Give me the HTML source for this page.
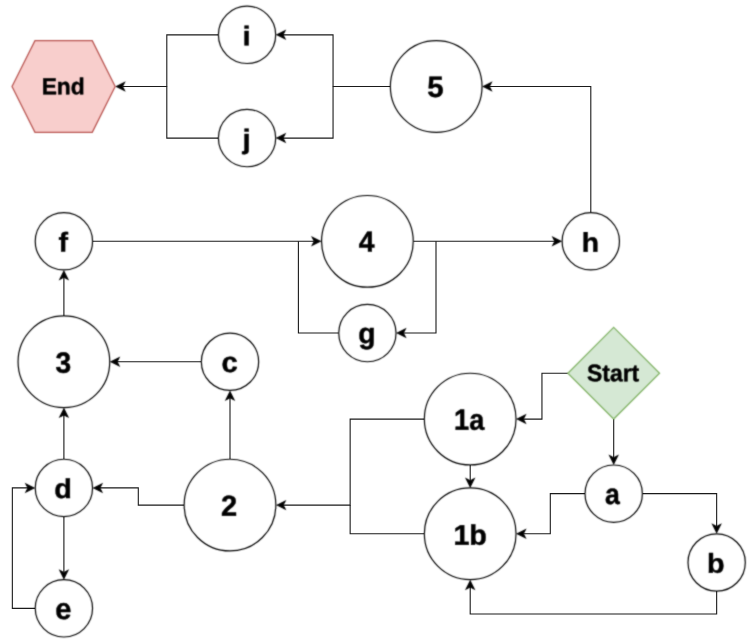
<!DOCTYPE html>
<html lang="en">
<head>
<meta charset="utf-8">
<title>Flow diagram</title>
<style>
html,body{margin:0;padding:0;background:#fff;}
body{width:749px;height:642px;overflow:hidden;}
svg{display:block;will-change:transform;}
text{text-rendering:geometricPrecision;font-family:"Liberation Sans",Arial,Helvetica,sans-serif;font-weight:bold;text-anchor:middle;fill:#000;stroke:#000;stroke-width:0.45px;stroke-linejoin:round;}
</style>
</head>
<body>
<svg width="749" height="642" viewBox="0 0 749 642">
<defs><filter id="soft" x="0" y="0" width="749" height="642" filterUnits="userSpaceOnUse" color-interpolation-filters="sRGB"><feConvolveMatrix order="3" kernelMatrix="0.04 0.1 0.04 0.1 0.44 0.1 0.04 0.1 0.04" edgeMode="duplicate" preserveAlpha="false"/></filter></defs>
<rect x="0" y="0" width="749" height="642" fill="#fff"/>
<path d="M 567.86 373.22 L 541.95 373.22 L 541.95 419.1 L 523.34 419.1" fill="none" stroke="#1a1a1a" stroke-width="1.1" stroke-miterlimit="10"/>
<path d="M 613.7 419.06 L 613.7 457.7" fill="none" stroke="#1a1a1a" stroke-width="1.1" stroke-miterlimit="10"/>
<path d="M 585.05 493.65 L 550.3 493.65 L 550.3 533.79 L 523.34 533.79" fill="none" stroke="#1a1a1a" stroke-width="1.1" stroke-miterlimit="10"/>
<path d="M 642.35 493.65 L 716.65 493.65 L 716.65 526.52" fill="none" stroke="#1a1a1a" stroke-width="1.1" stroke-miterlimit="10"/>
<path d="M 716.65 591.12 L 716.65 614 L 470.2 614 L 470.2 586.94" fill="none" stroke="#1a1a1a" stroke-width="1.1" stroke-miterlimit="10"/>
<path d="M 470.2 464.94 L 470.2 480.65" fill="none" stroke="#1a1a1a" stroke-width="1.1" stroke-miterlimit="10"/>
<path d="M 424.36 419.1 L 350.15 419.1 L 350.15 505.12 L 283.14 505.12" fill="none" stroke="#1a1a1a" stroke-width="1.1" stroke-miterlimit="10"/>
<path d="M 424.36 533.79 L 350.15 533.79 L 350.15 505.12" fill="none" stroke="#1a1a1a" stroke-width="1.1" stroke-miterlimit="10"/>
<path d="M 230 459.28 L 230 397.7" fill="none" stroke="#1a1a1a" stroke-width="1.1" stroke-miterlimit="10"/>
<path d="M 184.16 505.12 L 138.3 505.12 L 138.3 487.92 L 99.85 487.92" fill="none" stroke="#1a1a1a" stroke-width="1.1" stroke-miterlimit="10"/>
<path d="M 201.35 361.75 L 117.04 361.75" fill="none" stroke="#1a1a1a" stroke-width="1.1" stroke-miterlimit="10"/>
<path d="M 63.9 459.27 L 63.9 414.89" fill="none" stroke="#1a1a1a" stroke-width="1.1" stroke-miterlimit="10"/>
<path d="M 63.9 516.57 L 63.9 572.4" fill="none" stroke="#1a1a1a" stroke-width="1.1" stroke-miterlimit="10"/>
<path d="M 35.25 608.35 L 12.35 608.35 L 12.35 487.92 L 27.95 487.92" fill="none" stroke="#1a1a1a" stroke-width="1.1" stroke-miterlimit="10"/>
<path d="M 63.9 315.91 L 63.9 277.26" fill="none" stroke="#1a1a1a" stroke-width="1.1" stroke-miterlimit="10"/>
<path d="M 92.55 241.31 L 314.26 241.31" fill="none" stroke="#1a1a1a" stroke-width="1.1" stroke-miterlimit="10"/>
<path d="M 413.24 241.31 L 554.85 241.31" fill="none" stroke="#1a1a1a" stroke-width="1.1" stroke-miterlimit="10"/>
<path d="M 436 241.31 L 436 333.07 L 403.35 333.07" fill="none" stroke="#1a1a1a" stroke-width="1.1" stroke-miterlimit="10"/>
<path d="M 338.75 333.07 L 298.4 333.07 L 298.4 241.31" fill="none" stroke="#1a1a1a" stroke-width="1.1" stroke-miterlimit="10"/>
<path d="M 590.8 212.66 L 590.8 86.47 L 489.34 86.47" fill="none" stroke="#1a1a1a" stroke-width="1.1" stroke-miterlimit="10"/>
<path d="M 390.36 86.47 L 333.05 86.47 L 333.05 34.85 L 283 34.85" fill="none" stroke="#1a1a1a" stroke-width="1.1" stroke-miterlimit="10"/>
<path d="M 333.05 86.47 L 333.05 138.08 L 283 138.08" fill="none" stroke="#1a1a1a" stroke-width="1.1" stroke-miterlimit="10"/>
<path d="M 218.4 34.85 L 166.8 34.85 L 166.8 86.47 L 122.47 86.47" fill="none" stroke="#1a1a1a" stroke-width="1.1" stroke-miterlimit="10"/>
<path d="M 218.4 138.08 L 166.8 138.08 L 166.8 86.47" fill="none" stroke="#1a1a1a" stroke-width="1.1" stroke-miterlimit="10"/>
<g filter="url(#soft)">
<path d="M 517.32 419.1 L 525.35 415.08 L 523.34 419.1 L 525.35 423.11 Z" fill="#000" stroke="#000" stroke-width="1.1" stroke-miterlimit="10"/>
<path d="M 613.7 463.72 L 609.69 455.69 L 613.7 457.7 L 617.71 455.69 Z" fill="#000" stroke="#000" stroke-width="1.1" stroke-miterlimit="10"/>
<path d="M 517.32 533.79 L 525.35 529.78 L 523.34 533.79 L 525.35 537.81 Z" fill="#000" stroke="#000" stroke-width="1.1" stroke-miterlimit="10"/>
<path d="M 716.65 532.54 L 712.64 524.51 L 716.65 526.52 L 720.66 524.51 Z" fill="#000" stroke="#000" stroke-width="1.1" stroke-miterlimit="10"/>
<path d="M 470.2 580.92 L 474.21 588.94 L 470.2 586.94 L 466.19 588.94 Z" fill="#000" stroke="#000" stroke-width="1.1" stroke-miterlimit="10"/>
<path d="M 470.2 486.67 L 466.19 478.65 L 470.2 480.65 L 474.21 478.65 Z" fill="#000" stroke="#000" stroke-width="1.1" stroke-miterlimit="10"/>
<path d="M 277.12 505.12 L 285.15 501.11 L 283.14 505.12 L 285.15 509.13 Z" fill="#000" stroke="#000" stroke-width="1.1" stroke-miterlimit="10"/>
<path d="M 230 391.68 L 234.01 399.7 L 230 397.7 L 225.99 399.7 Z" fill="#000" stroke="#000" stroke-width="1.1" stroke-miterlimit="10"/>
<path d="M 93.83 487.92 L 101.86 483.9 L 99.85 487.92 L 101.86 491.93 Z" fill="#000" stroke="#000" stroke-width="1.1" stroke-miterlimit="10"/>
<path d="M 111.02 361.75 L 119.05 357.73 L 117.04 361.75 L 119.05 365.76 Z" fill="#000" stroke="#000" stroke-width="1.1" stroke-miterlimit="10"/>
<path d="M 63.9 408.87 L 67.91 416.89 L 63.9 414.89 L 59.89 416.89 Z" fill="#000" stroke="#000" stroke-width="1.1" stroke-miterlimit="10"/>
<path d="M 63.9 578.42 L 59.89 570.39 L 63.9 572.4 L 67.91 570.39 Z" fill="#000" stroke="#000" stroke-width="1.1" stroke-miterlimit="10"/>
<path d="M 33.97 487.92 L 25.94 491.93 L 27.95 487.92 L 25.94 483.9 Z" fill="#000" stroke="#000" stroke-width="1.1" stroke-miterlimit="10"/>
<path d="M 63.9 271.24 L 67.91 279.27 L 63.9 277.26 L 59.89 279.27 Z" fill="#000" stroke="#000" stroke-width="1.1" stroke-miterlimit="10"/>
<path d="M 320.28 241.31 L 312.25 245.32 L 314.26 241.31 L 312.25 237.3 Z" fill="#000" stroke="#000" stroke-width="1.1" stroke-miterlimit="10"/>
<path d="M 560.87 241.31 L 552.84 245.32 L 554.85 241.31 L 552.84 237.3 Z" fill="#000" stroke="#000" stroke-width="1.1" stroke-miterlimit="10"/>
<path d="M 397.33 333.07 L 405.36 329.06 L 403.35 333.07 L 405.36 337.08 Z" fill="#000" stroke="#000" stroke-width="1.1" stroke-miterlimit="10"/>
<path d="M 483.32 86.47 L 491.35 82.45 L 489.34 86.47 L 491.35 90.48 Z" fill="#000" stroke="#000" stroke-width="1.1" stroke-miterlimit="10"/>
<path d="M 276.98 34.85 L 285.01 30.84 L 283 34.85 L 285.01 38.86 Z" fill="#000" stroke="#000" stroke-width="1.1" stroke-miterlimit="10"/>
<path d="M 276.98 138.08 L 285.01 134.07 L 283 138.08 L 285.01 142.09 Z" fill="#000" stroke="#000" stroke-width="1.1" stroke-miterlimit="10"/>
<path d="M 116.45 86.47 L 124.48 82.45 L 122.47 86.47 L 124.48 90.48 Z" fill="#000" stroke="#000" stroke-width="1.1" stroke-miterlimit="10"/>
<ellipse cx="247.05" cy="34.85" rx="28.65" ry="28.65" fill="#fff" stroke="#000" stroke-width="1.18"/>
<ellipse cx="247.05" cy="138.08" rx="28.65" ry="28.65" fill="#fff" stroke="#000" stroke-width="1.18"/>
<ellipse cx="436.2" cy="86.47" rx="45.84" ry="45.84" fill="#fff" stroke="#000" stroke-width="1.18"/>
<ellipse cx="63.9" cy="241.31" rx="28.65" ry="28.65" fill="#fff" stroke="#000" stroke-width="1.18"/>
<ellipse cx="367.4" cy="241.31" rx="45.84" ry="45.84" fill="#fff" stroke="#000" stroke-width="1.18"/>
<ellipse cx="590.8" cy="241.31" rx="28.65" ry="28.65" fill="#fff" stroke="#000" stroke-width="1.18"/>
<ellipse cx="367.4" cy="333.07" rx="28.65" ry="28.65" fill="#fff" stroke="#000" stroke-width="1.18"/>
<ellipse cx="63.9" cy="361.75" rx="45.84" ry="45.84" fill="#fff" stroke="#000" stroke-width="1.18"/>
<ellipse cx="230" cy="361.75" rx="28.65" ry="28.65" fill="#fff" stroke="#000" stroke-width="1.18"/>
<ellipse cx="470.2" cy="419.1" rx="45.84" ry="45.84" fill="#fff" stroke="#000" stroke-width="1.18"/>
<ellipse cx="470.2" cy="533.79" rx="45.84" ry="45.84" fill="#fff" stroke="#000" stroke-width="1.18"/>
<ellipse cx="63.9" cy="487.92" rx="28.65" ry="28.65" fill="#fff" stroke="#000" stroke-width="1.18"/>
<ellipse cx="613.7" cy="493.65" rx="28.65" ry="28.65" fill="#fff" stroke="#000" stroke-width="1.18"/>
<ellipse cx="230" cy="505.12" rx="45.84" ry="45.84" fill="#fff" stroke="#000" stroke-width="1.18"/>
<ellipse cx="716.65" cy="562.47" rx="28.65" ry="28.65" fill="#fff" stroke="#000" stroke-width="1.18"/>
<ellipse cx="63.9" cy="608.35" rx="28.65" ry="28.65" fill="#fff" stroke="#000" stroke-width="1.18"/>
<path d="M 34.95 40.63 L 92.25 40.63 L 115.17 86.47 L 92.25 132.31 L 34.95 132.31 L 12.03 86.47 Z" fill="#f8cecc" stroke="#b85450" stroke-width="1.25" stroke-miterlimit="10"/>
<path d="M 613.7 327.38 L 659.54 373.22 L 613.7 419.06 L 567.86 373.22 Z" fill="#d5e8d4" stroke="#82b366" stroke-width="1.25" stroke-miterlimit="10"/>
<text transform="translate(246.69 45.18) rotate(0.03) scale(1.03 0.941)" font-size="28.65">i</text>
<text transform="translate(246.62 148.54) rotate(0.03) scale(1.03 0.956)" font-size="28.65">j</text>
<text transform="translate(435.53 96.88) rotate(0.03) scale(1.03 1.024)" font-size="28.65">5</text>
<text transform="translate(63.23 251.5) rotate(0.03) scale(0.994 0.946)" font-size="28.65">f</text>
<text transform="translate(366.72 251.41) rotate(0.03) scale(0.988 1.01)" font-size="28.65">4</text>
<text transform="translate(590.29 251.82) rotate(0.03) scale(0.985 0.947)" font-size="28.65">h</text>
<text transform="translate(366.92 343.16) rotate(0.03) scale(0.99 1.012)" font-size="28.65">g</text>
<text transform="translate(63.39 372.63) rotate(0.03) scale(0.983 1.021)" font-size="28.65">3</text>
<text transform="translate(229.51 372.11) rotate(0.03) scale(1.019 0.995)" font-size="28.65">c</text>
<text transform="translate(469.13 429.66) rotate(0.03) scale(0.95 1.026)" font-size="28.65">1a</text>
<text transform="translate(470.14 544.64) rotate(0.03) scale(1.002 0.993)" font-size="28.65">1b</text>
<text transform="translate(63.14 498.08) rotate(0.03) scale(1.006 0.957)" font-size="28.65">d</text>
<text transform="translate(612.44 504.14) rotate(0.03) scale(0.93 1.003)" font-size="28.65">a</text>
<text transform="translate(229.19 515.84) rotate(0.03) scale(1.015 1.018)" font-size="28.65">2</text>
<text transform="translate(715.84 572.84) rotate(0.03) scale(1.003 0.95)" font-size="28.65">b</text>
<text transform="translate(63.45 619.05) rotate(0.03) scale(1.014 1.036)" font-size="28.65">e</text>
<text transform="translate(63.13 94.25) rotate(0.03) scale(0.994 1.008)" font-size="22.92">End</text>
<text transform="translate(613.14 381.33) rotate(0.03) scale(0.999 1.045)" font-size="22.92">Start</text>
</g>
</svg>
</body>
</html>
